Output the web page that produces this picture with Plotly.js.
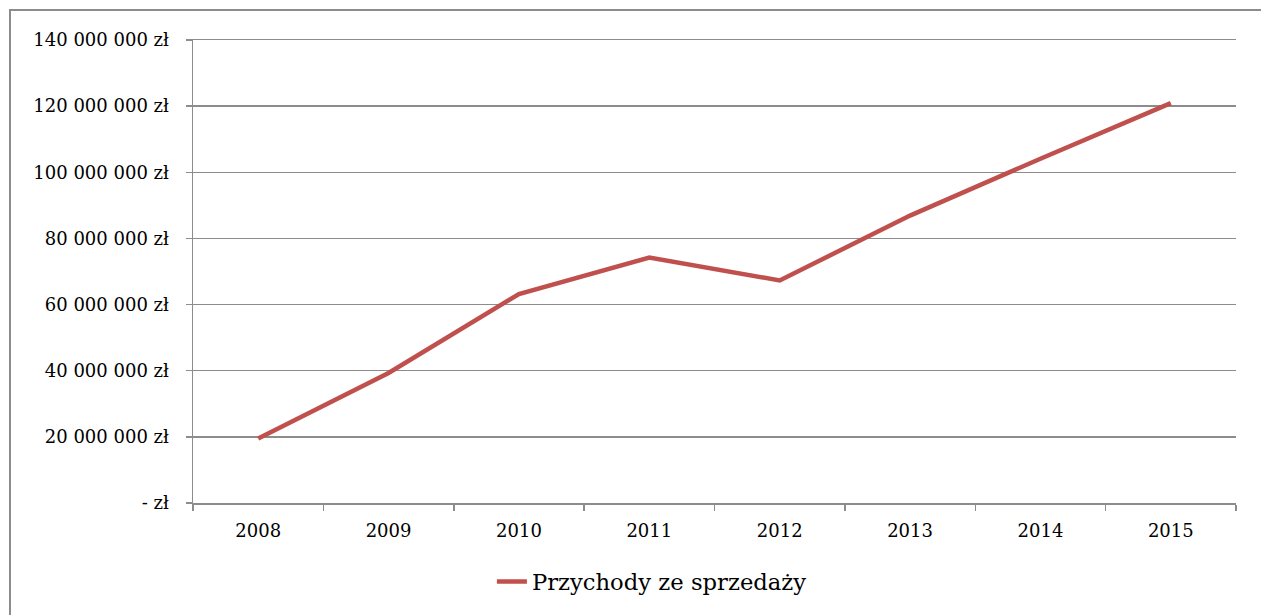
<!DOCTYPE html>
<html>
<head>
<meta charset="utf-8">
<script src="https://cdn.plot.ly/plotly-3.0.1.min.js"></script>
<style>
  html, body { margin: 0; padding: 0; width: 1261px; height: 615px; overflow: hidden; background: #fff; }
  #frame { position: absolute; left: 9px; top: 9px; width: 1400px; height: 800px; border: 2px solid #8c8c8c; }
  #chart { position: absolute; left: 0; top: 0; width: 1261px; height: 615px; }
</style>
</head>
<body>
<div id="frame"></div>
<div id="chart"></div>
<script>
const years = ['2008', '2009', '2010', '2011', '2012', '2013', '2014', '2015'];
const revenue = [19500000, 39300000, 63200000, 74200000, 67300000, 86900000, 104100000, 120900000];
const seriesName = 'Przychody ze sprzedaży';
const yTickVals = [0, 20000000, 40000000, 60000000, 80000000, 100000000, 120000000, 140000000];
const yTickText = ['- zł', '20 000 000 zł', '40 000 000 zł', '60 000 000 zł', '80 000 000 zł', '100 000 000 zł', '120 000 000 zł', '140 000 000 zł'];

const fontFam = '"DejaVu Serif", "Liberation Serif", serif';

const trace = {
  x: years,
  y: revenue,
  type: 'scatter',
  mode: 'lines',
  name: seriesName,
  line: { color: '#C0504D', width: 4.5 },
  showlegend: true
};

const layout = {
  width: 1261,
  height: 615,
  margin: { l: 193, r: 25, t: 40, b: 112 },
  paper_bgcolor: 'rgba(0,0,0,0)',
  plot_bgcolor: 'rgba(0,0,0,0)',
  font: { family: fontFam, color: '#000', size: 17 },
  showlegend: true,
  legend: {
    orientation: 'h',
    x: 0.44, xanchor: 'center',
    y: -0.17, yanchor: 'middle',
    font: { family: fontFam, size: 22.7, color: '#000' },
    bgcolor: 'rgba(0,0,0,0)'
  },
  xaxis: {
    type: 'category',
    range: [-0.5, 7.5],
    showline: true, mirror: true, linecolor: '#8c8c8c', linewidth: 1.5,
    showgrid: false, zeroline: false,
    ticks: 'outside', tickson: 'boundaries', ticklen: 6, tickcolor: '#8c8c8c', tickwidth: 1.5,
    ticklabelstandoff: 11,
    tickfont: { family: fontFam, size: 18, color: '#000' }
  },
  yaxis: {
    range: [0, 140000000],
    tickvals: yTickVals,
    ticktext: yTickText,
    showline: true, linecolor: '#8c8c8c', linewidth: 1.5,
    showgrid: true, gridcolor: '#8c8c8c', gridwidth: 1.5,
    zeroline: false,
    ticks: 'outside', ticklen: 6, tickcolor: '#8c8c8c', tickwidth: 1.5,
    ticklabelstandoff: 13,
    tickfont: { family: fontFam, size: 18, color: '#000' }
  }
};

Plotly.newPlot('chart', [trace], layout, { displayModeBar: false, staticPlot: true });
</script>
</body>
</html>
